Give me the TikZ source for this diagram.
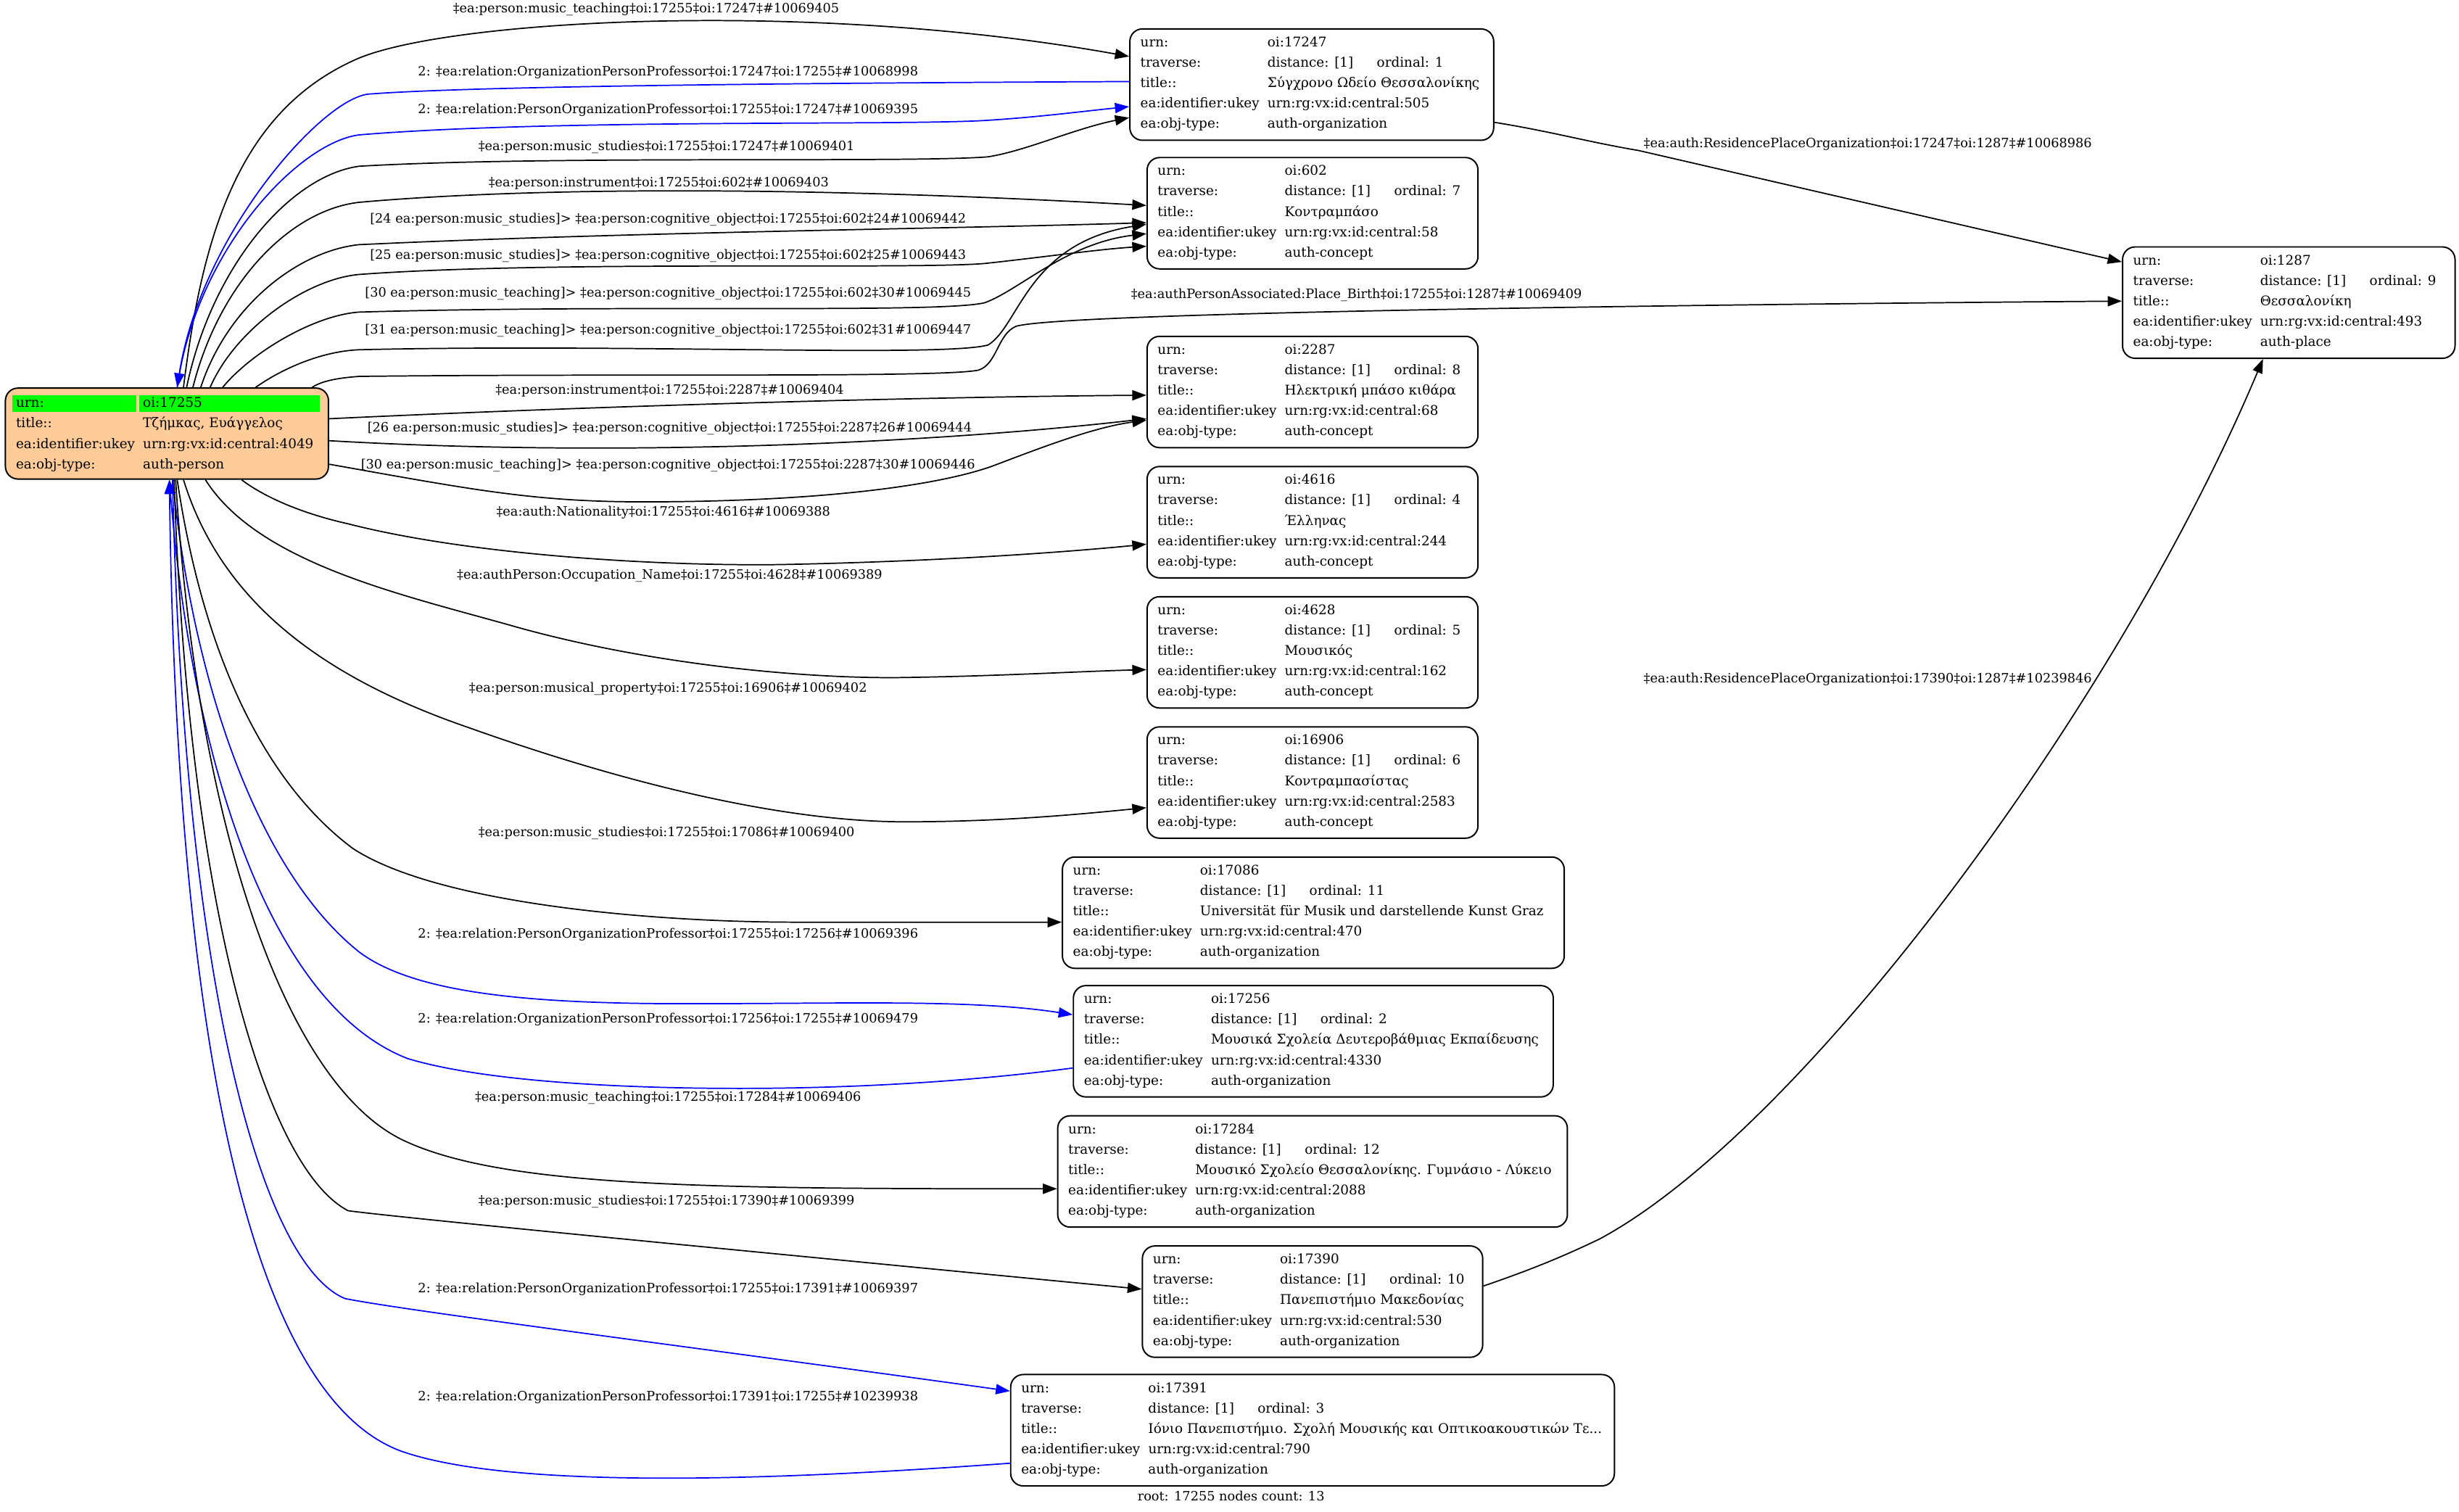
\documentclass[tikz,border=0pt]{standalone}
\usepackage{fontspec}
\setmainfont{DejaVu Serif}
\usetikzlibrary{arrows.meta}
\definecolor{peach}{RGB}{255,204,153}
\definecolor{gvgreen}{RGB}{0,255,0}
\definecolor{gvblue}{RGB}{0,0,255}
\newcommand\nodefont{\fontsize{8.5}{13}\selectfont}
\newcommand\lblfont{\fontsize{8.2}{9}\selectfont}
\tikzset{
  recbox/.style={draw=black, line width=0.9pt, rounded corners=8pt, minimum height=71pt, inner sep=0pt},
  rectext/.style={anchor=north west, inner sep=0pt, font=\nodefont},
  lbl/.style={inner sep=0pt, font=\lblfont},
  blk/.style={draw=black, line width=0.8pt, -{Triangle[length=9pt,width=6.5pt]}},
  blu/.style={draw=gvblue, line width=0.8pt, -{Triangle[length=9pt,width=6.5pt]}},
}
\newcommand\recnode[8]{%
  \node[recbox, minimum width=#3pt, anchor=north west] (#1) at (#2) {};
  \node[rectext] (#1-t) at ([xshift=7pt,yshift=-2.5pt]#1.north west) {%
    \begin{tabular}{@{}p{81pt}@{}l@{}}
    urn: & oi:#4\\
    traverse: & distance: [1]\hspace{15pt}ordinal: #5\\
    title:: & #6\\
    ea:identifier:ukey & urn:rg:vx:id:central:#7\\
    ea:obj-type: & #8
    \end{tabular}};
}
\begin{document}
\begin{tikzpicture}[x=1pt,y=-1pt]
\useasboundingbox (0,0) rectangle (1568,964);

% root node
\node[recbox, fill=peach, minimum width=206pt, minimum height=58pt, anchor=north west] (root) at (3,247) {};
\fill[gvgreen] (8,252) rectangle (87,262.5);
\fill[gvgreen] (89,252) rectangle (204,262.5);
\node[rectext] (root-t) at ([xshift=7pt,yshift=-3.5pt]root.north west) {%
  \begin{tabular}{@{}p{81pt}@{}l@{}}
  urn: & oi:17255\\
  title:: & Τζήμκας, Ευάγγελος\\
  ea:identifier:ukey & urn:rg:vx:id:central:4049\\
  ea:obj-type: & auth-person
  \end{tabular}};

\recnode{n17247}{720,18}{232}{17247}{1}{Σύγχρονο Ωδείο Θεσσαλονίκης}{505}{auth-organization}
\recnode{n602}{731,100}{211}{602}{7}{Κοντραμπάσο}{58}{auth-concept}
\recnode{n1287}{1353,157}{212}{1287}{9}{Θεσσαλονίκη}{493}{auth-place}
\recnode{n2287}{731,214}{211}{2287}{8}{Ηλεκτρική μπάσο κιθάρα}{68}{auth-concept}
\recnode{n4616}{731,297}{211}{4616}{4}{Έλληνας}{244}{auth-concept}
\recnode{n4628}{731,380}{211}{4628}{5}{Μουσικός}{162}{auth-concept}
\recnode{n16906}{731,463}{211}{16906}{6}{Κοντραμπασίστας}{2583}{auth-concept}
\recnode{n17086}{677,546}{320}{17086}{11}{Universität für Musik und darstellende Kunst Graz}{470}{auth-organization}
\recnode{n17256}{684,628}{306}{17256}{2}{Μουσικά Σχολεία Δευτεροβάθμιας Εκπαίδευσης}{4330}{auth-organization}
\recnode{n17284}{674,711}{325}{17284}{12}{Μουσικό Σχολείο Θεσσαλονίκης. Γυμνάσιο - Λύκειο}{2088}{auth-organization}
\recnode{n17390}{728,794}{217}{17390}{10}{Πανεπιστήμιο Μακεδονίας}{530}{auth-organization}
\recnode{n17391}{644,876}{385}{17391}{3}{Ιόνιο Πανεπιστήμιο. Σχολή Μουσικής και Οπτικοακουστικών Τε...}{790}{auth-organization}

% edges
\draw[blk] ([xshift=114pt]root.north west) .. controls (129,150) and (152,70) .. (229,37) .. controls (290,12) and (520,0) .. ([yshift=-18pt]n17247.north west);
\draw[blu] ([yshift=-34pt]n17247.north west) .. controls (500,53) and (300,55) .. (235,60) .. controls (205,63) and (128,150) .. ([xshift=110pt]root.north west);
\draw[blu] ([xshift=110pt]root.north west) .. controls (125,160) and (190,91) .. (229,86) .. controls (350,76) and (560,80) .. (625,77) .. controls (660,75) and (690,71) .. ([yshift=-50pt]n17247.north west);
\draw[blk] ([xshift=116pt]root.north west) .. controls (135,170) and (185,112) .. (229,106) .. controls (350,99) and (580,104) .. (630,100) .. controls (655,96) and (685,82) .. ([yshift=-57pt]n17247.north west);
\draw[blk] ([xshift=120pt]root.north west) .. controls (140,180) and (185,134) .. (229,129) .. controls (330,120) and (500,118) .. ([yshift=-31pt]n602.north west);
\draw[blk] ([xshift=125pt]root.north west) .. controls (145,195) and (190,160) .. (229,156) .. controls (400,148) and (600,146) .. ([yshift=-42pt]n602.north west);
\draw[blk] ([xshift=131pt]root.north west) .. controls (150,210) and (195,178) .. (229,175) .. controls (350,166) and (580,172) .. (628,168) .. controls (665,164) and (700,159) .. ([yshift=-57pt]n602.north west);
\draw[blk] ([xshift=139pt]root.north west) .. controls (160,225) and (200,201) .. (229,199) .. controls (400,194) and (600,200) .. (628,193) .. controls (650,185) and (680,155) .. ([yshift=-49pt]n602.north west);
\draw[blk] ([xshift=160pt]root.north west) .. controls (180,235) and (205,224) .. (229,223) .. controls (400,219) and (600,228) .. (630,220) .. controls (650,208) and (655,155) .. ([yshift=-43pt]n602.north west);
\draw[blk] ([xshift=196pt]root.north west) .. controls (205,243) and (215,241) .. (229,240) .. controls (400,238) and (600,241) .. (624,236) .. controls (636,232) and (636,213) .. (648,208) .. controls (680,199) and (1100,194) .. ([yshift=-35pt]n1287.north west);
\draw[blk] ([yshift=-60pt]n17247.north east) .. controls (990,84) and (1010,90) .. (1045,96) -- ([yshift=-10pt]n1287.north west);
\draw[blk] ([yshift=-20pt]root.north east) .. controls (400,258) and (600,253) .. ([yshift=-38pt]n2287.north west);
\draw[blk] ([yshift=-34pt]root.north east) .. controls (400,292) and (600,282) .. ([yshift=-53pt]n2287.north west);
\draw[blk] ([yshift=-49pt]root.north east) .. controls (300,312) and (340,320) .. (410,320) .. controls (520,320) and (600,310) .. (636,296) .. controls (670,283) and (700,272) .. ([yshift=-54pt]n2287.north west);
\draw[blk] ([xshift=151pt]root.south west) .. controls (170,318) and (195,328) .. (222,334) .. controls (300,354) and (420,361) .. (497,360) .. controls (600,358) and (680,352) .. ([yshift=-50pt]n4616.north west);
\draw[blk] ([xshift=128pt]root.south west) .. controls (165,360) and (260,380) .. (330,400) .. controls (420,425) and (520,433) .. (577,432) .. controls (640,431) and (690,428) .. ([yshift=-47pt]n4628.north west);
\draw[blk] ([xshift=114pt]root.south west) .. controls (140,380) and (200,430) .. (299,464) .. controls (400,500) and (500,524) .. (577,524) .. controls (640,524) and (690,519) .. ([yshift=-52pt]n16906.north west);
\draw[blk] ([xshift=110pt]root.south west) .. controls (130,420) and (170,500) .. (225,541) .. controls (280,577) and (420,588) .. (507,588) -- ([yshift=-42pt]n17086.north west);
\draw[blu] ([xshift=107pt]root.south west) .. controls (125,450) and (170,560) .. (229,607) .. controls (265,634) and (340,640) .. (438,640) .. controls (540,640) and (620,637) .. ([yshift=-19pt]n17256.north west);
\draw[blu] ([yshift=-53pt]n17256.north west) .. controls (600,692) and (520,694) .. (472,694) .. controls (400,694) and (310,690) .. (260,675) .. controls (170,640) and (122,480) .. ([xshift=105pt]root.south west);
\draw[blk] ([xshift=109pt]root.south west) .. controls (125,520) and (180,690) .. (257,727) .. controls (320,757) and (450,758) .. ([yshift=-47pt]n17284.north west);
\draw[blk] ([xshift=108pt]root.south west) .. controls (120,580) and (170,745) .. (222,772) .. controls (260,777) and (500,800) .. ([yshift=-28pt]n17390.north west);
\draw[blu] ([xshift=107pt]root.south west) .. controls (117,620) and (165,805) .. (220,828) .. controls (260,836) and (450,860) .. ([yshift=-11pt]n17391.north west);
\draw[blu] ([yshift=-57pt]n17391.north west) .. controls (520,942) and (330,952) .. (255,925) .. controls (150,885) and (112,620) .. ([xshift=105pt]root.south west);
\draw[blk] ([yshift=-26pt]n17390.north east) .. controls (975,810) and (995,802) .. (1020,790) .. controls (1150,720) and (1350,450) .. ([xshift=90pt]n1287.south west);

% labels
\node[lbl] (l1) at (412,6) {‡ea:person:music\_teaching‡oi:17255‡oi:17247‡\#10069405};
\node[lbl] (l2) at (426,46) {2: ‡ea:relation:OrganizationPersonProfessor‡oi:17247‡oi:17255‡\#10068998};
\node[lbl] (l3) at (426,70) {2: ‡ea:relation:PersonOrganizationProfessor‡oi:17255‡oi:17247‡\#10069395};
\node[lbl] (l4) at (425,94) {‡ea:person:music\_studies‡oi:17255‡oi:17247‡\#10069401};
\node[lbl] (l5) at (420,117) {‡ea:person:instrument‡oi:17255‡oi:602‡\#10069403};
\node[lbl] (l6) at (426,140) {[24 ea:person:music\_studies]> ‡ea:person:cognitive\_object‡oi:17255‡oi:602‡24\#10069442};
\node[lbl] (l7) at (426,163) {[25 ea:person:music\_studies]> ‡ea:person:cognitive\_object‡oi:17255‡oi:602‡25\#10069443};
\node[lbl] (l8) at (426,187) {[30 ea:person:music\_teaching]> ‡ea:person:cognitive\_object‡oi:17255‡oi:602‡30\#10069445};
\node[lbl] (l9) at (426,211) {[31 ea:person:music\_teaching]> ‡ea:person:cognitive\_object‡oi:17255‡oi:602‡31\#10069447};
\node[lbl] (l10) at (865,188) {‡ea:authPersonAssociated:Place\_Birth‡oi:17255‡oi:1287‡\#10069409};
\node[lbl] (l11) at (1191,92) {‡ea:auth:ResidencePlaceOrganization‡oi:17247‡oi:1287‡\#10068986};
\node[lbl] (l12) at (427,249) {‡ea:person:instrument‡oi:17255‡oi:2287‡\#10069404};
\node[lbl] (l13) at (427,273) {[26 ea:person:music\_studies]> ‡ea:person:cognitive\_object‡oi:17255‡oi:2287‡26\#10069444};
\node[lbl] (l14) at (426,297) {[30 ea:person:music\_teaching]> ‡ea:person:cognitive\_object‡oi:17255‡oi:2287‡30\#10069446};
\node[lbl] (l15) at (423,327) {‡ea:auth:Nationality‡oi:17255‡oi:4616‡\#10069388};
\node[lbl] (l16) at (427,367) {‡ea:authPerson:Occupation\_Name‡oi:17255‡oi:4628‡\#10069389};
\node[lbl] (l17) at (426,439) {‡ea:person:musical\_property‡oi:17255‡oi:16906‡\#10069402};
\node[lbl] (l18) at (425,531) {‡ea:person:music\_studies‡oi:17255‡oi:17086‡\#10069400};
\node[lbl] (l19) at (426,596) {2: ‡ea:relation:PersonOrganizationProfessor‡oi:17255‡oi:17256‡\#10069396};
\node[lbl] (l20) at (426,650) {2: ‡ea:relation:OrganizationPersonProfessor‡oi:17256‡oi:17255‡\#10069479};
\node[lbl] (l21) at (426,700) {‡ea:person:music\_teaching‡oi:17255‡oi:17284‡\#10069406};
\node[lbl] (l22) at (425,766) {‡ea:person:music\_studies‡oi:17255‡oi:17390‡\#10069399};
\node[lbl] (l23) at (426,822) {2: ‡ea:relation:PersonOrganizationProfessor‡oi:17255‡oi:17391‡\#10069397};
\node[lbl] (l24) at (426,891) {2: ‡ea:relation:OrganizationPersonProfessor‡oi:17391‡oi:17255‡\#10239938};
\node[lbl] (l25) at (1191,433) {‡ea:auth:ResidencePlaceOrganization‡oi:17390‡oi:1287‡\#10239846};
\node[lbl] (cap) at (785,954) {root: 17255 nodes count: 13};
\end{tikzpicture}
\end{document}
